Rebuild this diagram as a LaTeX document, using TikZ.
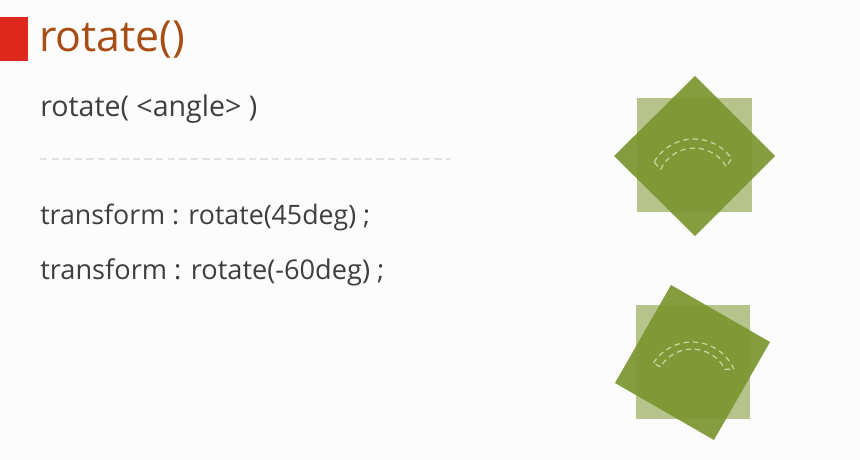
\documentclass[tikz,border=0pt]{standalone}
\usepackage{fontspec}
\setmainfont{Open Sans}
\usepackage{graphicx}
\definecolor{titlebrown}{RGB}{168,78,20}
\definecolor{barred}{RGB}{222,40,28}
\definecolor{bodygray}{RGB}{62,62,62}
\definecolor{rulegray}{RGB}{226,226,226}
\definecolor{paleolive}{RGB}{182,196,140}
\definecolor{olive}{RGB}{124,150,48}
\definecolor{arcline}{RGB}{205,214,160}
\tikzset{
  bodytext/.style={anchor=base west, inner sep=0pt, text=bodygray},
  basesquare/.style={fill=paleolive, draw=none},
  turnedsquare/.style={fill=olive, fill opacity=0.93, draw=none},
  turnarc/.style={draw=arcline, line width=0.9pt, dash pattern=on 4pt off 3pt},
  divider/.style={draw=rulegray, line width=1.2pt, dash pattern=on 5.5pt off 3.2pt}
}
\begin{document}
\begin{tikzpicture}[x=0.75pt,y=-0.75pt]
  % canvas
  \fill[white!99!black] (0,0) rectangle (860,460);
  \useasboundingbox (0,0) rectangle (860,460);

  % heading
  \fill[barred] (0,17) rectangle (28,61);
  \node[anchor=base west, inner sep=0pt, text=titlebrown] (title) at (39,52)
    {\resizebox{109.5pt}{!}{rotate()}};

  % syntax and examples
  \node[bodytext] (syntax) at (40,116)
    {\resizebox{162.75pt}{!}{rotate(\ \textless angle\textgreater\ )}};
  \draw[divider] (40,159) -- (450,159);
  \node[bodytext] (ex45) at (40,224)
    {\resizebox{247.5pt}{!}{transform : rotate(45deg) ;}};
  \node[bodytext] (exm60) at (40,279)
    {\resizebox{258pt}{!}{transform : rotate(-60deg) ;}};

  % 45deg: original box and rotated box
  \fill[basesquare] (637,98) rectangle (752,212);
  \fill[turnedsquare] (695,76) -- (775,156) -- (695,236) -- (614,156) -- cycle;
  \draw[turnarc] (694,185) ++(210:46) arc[start angle=210, end angle=325, radius=46]
      -- ++(-5.5,8) arc[start angle=330, end angle=205, radius=37] -- cycle;

  % -60deg: original box and rotated box
  \fill[basesquare] (636,305) rectangle (750,419);
  \fill[turnedsquare] (671,285) -- (770,342) -- (714,440) -- (615,383) -- cycle;
  \draw[turnarc] (692,388) ++(213:46) arc[start angle=213, end angle=336, radius=46]
      -- ++(-9,0) arc[start angle=333, end angle=211, radius=37] -- cycle;
\end{tikzpicture}
\end{document}
